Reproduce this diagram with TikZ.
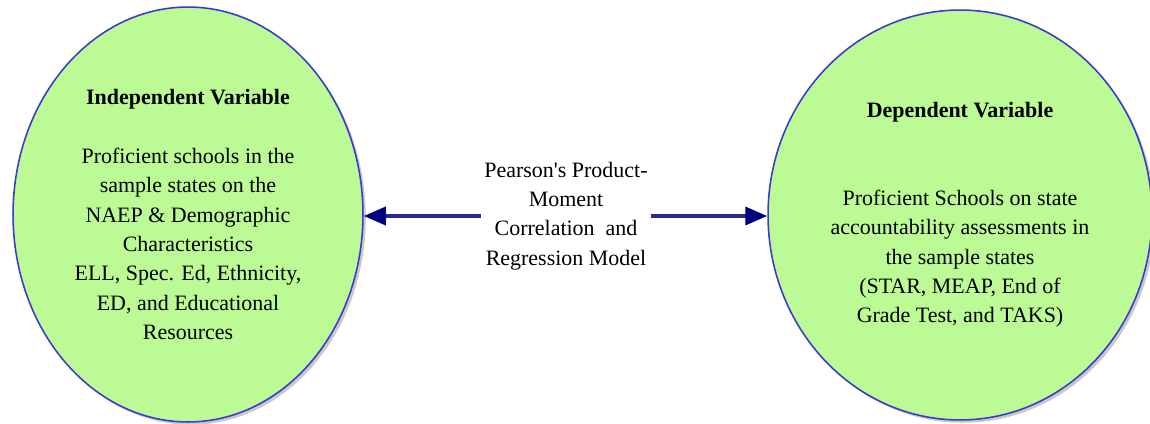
\documentclass[tikz,border=0pt]{standalone}
\usepackage{fontspec}
\setmainfont{Liberation Serif}
\usepackage{tikz}
\usetikzlibrary{shapes.geometric,shadows,arrows.meta}
\definecolor{ovalfill}{HTML}{BCFA96}
\definecolor{ovalline}{HTML}{3B3BD0}
\definecolor{linkblue}{HTML}{2A2A90}
\definecolor{tipblue}{HTML}{000080}

\begin{document}
\begin{tikzpicture}[
  x=0.02cm,y=-0.02cm,
  font=\fontsize{12.5}{16.7}\selectfont,
  oval/.style={ellipse,draw=ovalline,line width=0.9pt,fill=ovalfill,inner sep=0pt,align=center,
    drop shadow={shadow xshift=1.6pt,shadow yshift=-1.6pt,opacity=0.3,fill=black!70}},
  mid/.style={align=center,inner sep=2pt},
  lnk/.style={draw=linkblue,line width=2pt,-{Triangle[length=0.44cm,width=0.36cm,color=tipblue]}},
]
\useasboundingbox (0,0) rectangle (1150,423);

\node[oval,minimum width=7cm,minimum height=8.3cm] (indep) at (188,214.5)
  {\textbf{Independent Variable}\\[16.7pt]
   Proficient schools in the\\sample states on the\\NAEP \& Demographic\\Characteristics\\
   ELL, Spec. Ed, Ethnicity,\\ED, and Educational\\Resources};
\node[oval,minimum width=7.68cm,minimum height=8.2cm] (dep) at (960,215)
  {\textbf{Dependent Variable}\\[33.4pt]
   Proficient Schools on state\\accountability assessments in\\the sample states\\
   (STAR, MEAP, End of\\Grade Test, and TAKS)};
\node[mid] (corr) at (566,216)
  {Pearson\textquotesingle s Product-\\Moment\\Correlation~ and\\Regression Model};

\draw[lnk] (corr.west) -- (corr.west -| indep.east);
\draw[lnk] (corr.east) -- (corr.east -| dep.west);
\end{tikzpicture}
\end{document}
